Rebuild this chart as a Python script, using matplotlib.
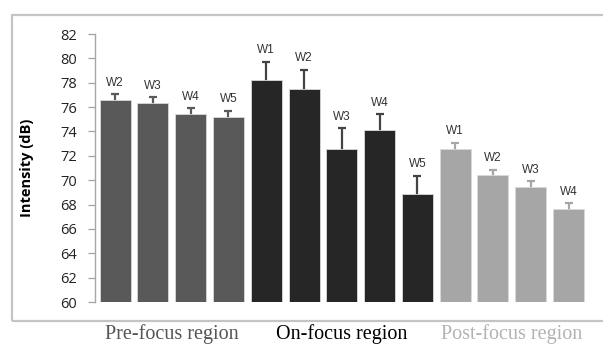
import matplotlib
matplotlib.use("Agg")
import matplotlib.pyplot as plt
from matplotlib.patches import Rectangle

labels = ["W2", "W3", "W4", "W5", "W1", "W2", "W3", "W4", "W5", "W1", "W2", "W3", "W4"]
values = [76.6, 76.3, 75.4, 75.2, 78.2, 77.5, 72.6, 74.1, 68.9, 72.6, 70.4, 69.4, 67.6]
errors = [0.45, 0.5, 0.5, 0.5, 1.5, 1.55, 1.65, 1.3, 1.45, 0.45, 0.45, 0.5, 0.5]
groups = ["Pre-focus region", "On-focus region", "Post-focus region"]
group_sizes = [4, 5, 4]
group_colors = ["#595959", "#262626", "#a6a6a6"]
group_text_colors = ["#555555", "#000000", "#b3b3b3"]
yticks = list(range(60, 83, 2))

W, H = 603, 345
fig = plt.figure(figsize=(W / 100, H / 100), dpi=100)
fig.patch.set_facecolor("white")

# outer frame
fig.patches.append(Rectangle((12 / W, (H - 321) / H), 1.2, (321 - 15) / H,
                             transform=fig.transFigure, fill=False,
                             edgecolor="#c4c4c4", linewidth=1.6, zorder=0))

ax = fig.add_axes([95 / W, (H - 302) / H, (592 - 95) / W, (302 - 34) / H])

colors = []
for c, n in zip(group_colors, group_sizes):
    colors += [c] * n
x = list(range(len(values)))

ax.bar(x, [v - 60 for v in values], bottom=60, width=0.82, color=colors,
       edgecolor="#d9d9d9", linewidth=0.6, zorder=2)
for xi, v, e, c in zip(x, values, errors, colors):
    ec = c if c != "#262626" else "#444444"
    ax.errorbar(xi, v, yerr=[[0.3], [e]], fmt="none", ecolor=ec, elinewidth=1.6,
                capsize=3, capthick=1.6, zorder=1)
    ax.annotate(labels[xi], (xi, v + e), xytext=(0, 4), textcoords="offset points",
                ha="center", va="bottom", fontsize=8.5, color="#333333",
                family="Liberation Sans")

ax.set_xlim(-0.53, 12.62)
ax.set_ylim(60, 82)
ax.set_yticks(yticks)
ax.set_yticklabels([str(t) for t in yticks], fontsize=10.5, family="Open Sans",
                   color="#222222")
ax.set_xticks([])
ax.tick_params(axis="y", direction="out", length=5, width=0.9, color="#a0a0a0", pad=8)
for s in ["top", "right", "bottom"]:
    ax.spines[s].set_visible(False)
ax.spines["left"].set_color("#a6a6a6")
ax.spines["left"].set_linewidth(1.0)
ax.set_ylabel("Intensity (dB)", fontsize=10.5, fontweight="bold", family="Open Sans")
ax.yaxis.set_label_coords(-0.123, 0.5)

# group labels
start = 0
for g, n, tc in zip(groups, group_sizes, group_text_colors):
    center = start + (n - 1) / 2
    ax.text(center, -0.155, g, transform=ax.get_xaxis_transform(), ha="center",
            va="bottom", fontsize=14.5, family="Liberation Serif", color=tc)
    start += n

fig.savefig("out.png", dpi=100)
